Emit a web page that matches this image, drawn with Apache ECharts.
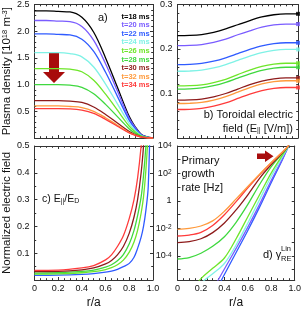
<!DOCTYPE html>
<html><head><meta charset="utf-8">
<script src="https://cdn.jsdelivr.net/npm/echarts@6/dist/echarts.min.js"></script>
<style>html,body{margin:0;padding:0;background:#fff}#c{width:304px;height:316px}</style>
</head><body><div id="c"></div><script>
// ---- legend / colours ----
const timeLabels = ['t=18 ms','t=20 ms','t=22 ms','t=24 ms','t=26 ms','t=28 ms','t=30 ms','t=32 ms','t=34 ms'];
const colors = ['#000000','#7a5cff','#2f5bff','#7ff2e6','#6ee62a','#3fd83f','#8e1b1b','#ff9a3c','#ff3b3b'];

// ---- a) plasma density [1e18 m^-3] ----
const rA = [0,0.1,0.2,0.3,0.4,0.5,0.6,0.7,0.8,0.85,0.9,0.95,1.0];
const densT18 = [2.38,2.38,2.37,2.36,2.26,1.98,1.50,0.95,0.40,0.21,0.07,0.02,0];
const densT20 = [2.20,2.20,2.19,2.18,2.09,1.83,1.39,0.88,0.37,0.20,0.066,0.018,0];
const densT22 = [1.95,1.95,1.94,1.93,1.85,1.62,1.23,0.78,0.33,0.175,0.058,0.016,0];
const densT24 = [1.60,1.60,1.60,1.58,1.52,1.33,1.01,0.64,0.27,0.144,0.048,0.013,0];
const densT26 = [1.30,1.30,1.30,1.29,1.24,1.08,0.82,0.52,0.22,0.117,0.039,0.010,0];
const densT28 = [1.00,1.00,1.00,0.99,0.95,0.83,0.63,0.40,0.17,0.09,0.03,0.008,0];
const densT30 = [0.70,0.70,0.70,0.69,0.665,0.58,0.44,0.28,0.12,0.063,0.021,0.006,0];
const densT32 = [0.60,0.60,0.60,0.59,0.57,0.50,0.38,0.24,0.10,0.054,0.018,0.005,0];
const densT34 = [0.55,0.55,0.55,0.545,0.52,0.46,0.35,0.22,0.094,0.05,0.017,0.004,0];

// ---- b) toroidal electric field [V/m] ----
const rB = [0,0.1,0.2,0.3,0.4,0.5,0.6,0.7,0.8,0.9,1.0];
const efT18 = [0.230,0.2305,0.2325,0.2375,0.245,0.2545,0.264,0.272,0.277,0.279,0.279];
const efT20 = [0.2075,0.208,0.210,0.215,0.222,0.232,0.241,0.249,0.254,0.256,0.256];
const efT22 = [0.165,0.1655,0.1675,0.1725,0.180,0.1895,0.199,0.207,0.212,0.214,0.214];
const efT24 = [0.150,0.1505,0.1525,0.1575,0.165,0.1745,0.184,0.192,0.197,0.199,0.199];
const efT26 = [0.117,0.1175,0.1195,0.1247,0.132,0.1425,0.1527,0.1609,0.166,0.168,0.168];
const efT28 = [0.110,0.1105,0.1125,0.1175,0.125,0.1345,0.144,0.152,0.157,0.159,0.159];
const efT30 = [0.085,0.0855,0.0875,0.0925,0.100,0.110,0.120,0.128,0.133,0.135,0.135];
const efT32 = [0.0775,0.078,0.080,0.0852,0.093,0.103,0.1132,0.1214,0.1265,0.1286,0.1286];
const efT34 = [0.064,0.0645,0.0665,0.0714,0.0789,0.0888,0.0987,0.1066,0.1115,0.1135,0.1135];

// ---- c) normalized electric field E||/ED ----
const rC = [0,0.2,0.4,0.5,0.6,0.65,0.7,0.75,0.8,0.84,0.87,0.9,0.92,0.94,0.96,0.98];
const eT22 = [0.017,0.018,0.021,0.024,0.029,0.033,0.040,0.050,0.062,0.085,0.118,0.16,0.20,0.26,0.35,0.7];
const eT26 = [0.022,0.023,0.027,0.031,0.039,0.046,0.057,0.074,0.104,0.142,0.185,0.25,0.31,0.41,0.56,0.78];
const eT28 = [0.026,0.027,0.032,0.037,0.048,0.057,0.072,0.095,0.135,0.185,0.24,0.31,0.39,0.50,0.66,0.9];
const eT30 = [0.031,0.032,0.038,0.045,0.060,0.073,0.094,0.125,0.175,0.235,0.30,0.40,0.50,0.64,0.82,1.1];
const eT34 = [0.036,0.037,0.045,0.054,0.075,0.094,0.125,0.165,0.23,0.30,0.38,0.50,0.62,0.78,1.0,1.3];

// ---- d) primary growth rate [Hz] ----
const rD = [0,0.1,0.2,0.3,0.4,0.5,0.6,0.7,0.8,0.9,0.95];
const gT20 = [1e-11,1.58e-10,5.0e-9,3.16e-7,1.12e-5,3.55e-4,1.26e-2,0.562,31.6,1413,11220];
const gT22 = [3.2e-12,5.0e-11,1.58e-9,1e-7,4.5e-6,1.78e-4,7.1e-3,0.355,22.4,1259,11220];
const gT24 = [2.5e-8,6.3e-8,1e-6,5.0e-6,2.82e-5,6.3e-4,2.51e-2,1.26,63,1995,11220];
const gT26 = [1e-7,2.0e-7,2.24e-6,1.26e-5,7.1e-5,1.78e-3,7.1e-2,2.82,112,2512,11220];
const gT28 = [6.0e-5,7.6e-5,1.58e-4,5.0e-4,2.51e-3,2.82e-2,0.562,15.8,316,3162,11220];
const gT30 = [9.3e-4,1.1e-3,1.78e-3,5.0e-3,2.51e-2,0.224,2.82,44.7,447,3548,11220];
const gT32 = [8.7e-3,1.0e-2,1.51e-2,3.55e-2,0.178,1.41,11.2,89,631,3981,11220];
const gT34 = [2.82e-3,3.31e-3,5.25e-3,1.66e-2,0.1,0.891,8.91,79.4,603,3981,11220];

// tick labels
const xTickLabels = {0:'0',0.2:'0.2',0.4:'0.4',0.6:'0.6',0.8:'0.8',1:'1.0'};
const dLabelValues = [1e-4,1e-2,1,1e2,1e4];

const FONT = 'Liberation Sans';
const AX = '#333';
const pts = (xs, ys) => xs.map((x, i) => [x, ys[i]]);

function xAx(grid, pos, labels, name) {
  return {
    type:'value', gridIndex:grid, position:pos, min:0, max:1, interval:0.2,
    axisLine:{show:true, onZero:false, lineStyle:{color:AX, width:1}},
    axisTick:{show:true, inside:true, length:3, lineStyle:{color:AX}},
    minorTick:{show:true, splitNumber:4, length:1.8, lineStyle:{color:AX}},
    splitLine:{show:false},
    axisLabel:{show:labels, margin:4, fontSize:9, color:'#111', fontFamily:FONT,
      formatter:v => xTickLabels[v] !== undefined ? xTickLabels[v] : ''},
    name: name || '', nameLocation:'middle', nameGap:17,
    nameTextStyle:{fontSize:12, color:'#111', fontFamily:FONT}
  };
}
function yAx(grid, pos, min, max, interval, minor, labels, name) {
  return {
    type:'value', gridIndex:grid, position:pos, min:min, max:max, interval:interval,
    axisLine:{show:true, onZero:false, lineStyle:{color:AX, width:1}},
    axisTick:{show:true, inside:true, length:3, lineStyle:{color:AX}},
    minorTick:{show:true, splitNumber:minor, length:1.8, lineStyle:{color:AX}},
    splitLine:{show:false},
    axisLabel:{show:labels, margin:5, fontSize:9, color:'#111', fontFamily:FONT, showMinLabel:false,
      formatter:v => v.toFixed(1)},
    name: name || '', nameLocation:'middle', nameGap:16,
    nameTextStyle:{fontSize:11.5, color:'#111', fontFamily:FONT,
      rich:{sup:{fontSize:7.5, verticalAlign:'top', fontFamily:FONT, color:'#111'}}}
  };
}
function yLog(grid, pos, labels) {
  return {
    type:'log', logBase:10, gridIndex:grid, position:pos, min:1.778e-6, max:1e4,
    axisLine:{show:true, onZero:false, lineStyle:{color:AX, width:1}},
    axisTick:{show:true, inside:true, length:3, lineStyle:{color:AX},
      customValues:[1e-5,1e-4,1e-3,1e-2,1e-1,1,1e1,1e2,1e3,1e4]},
    splitLine:{show:false},
    axisLabel:{show:labels, margin:6, fontSize:9, color:'#111', fontFamily:FONT,
      customValues:dLabelValues,
      formatter:v => { const e = Math.round(Math.log10(v)); return e === 0 ? '1' : '10{sup|' + e + '}'; },
      rich:{sup:{fontSize:6.5, verticalAlign:'top', fontFamily:FONT, color:'#111'}}}
  };
}

const grids = [
  {left:32, top:4, width:121, height:134},
  {left:177.5, top:4, width:120.5, height:134},
  {left:32, top:146, width:121, height:134},
  {left:177.5, top:146, width:120.5, height:134}
];

const xAxes = [
  xAx(0,'bottom',false), xAx(0,'top',false),
  xAx(1,'bottom',false), xAx(1,'top',false),
  xAx(2,'bottom',true,'r/a'), xAx(2,'top',false),
  xAx(3,'bottom',true,'r/a'), xAx(3,'top',false)
];
const yAxes = [
  yAx(0,'left',0,2.5,0.5,5,true,'Plasma density [10{sup|18} m{sup|-3}]'), yAx(0,'right',0,2.5,0.5,5,false),
  yAx(1,'left',0,0.3,0.1,5,true), yAx(1,'right',0,0.3,0.1,5,false),
  yAx(2,'left',0,0.5,0.1,2,true,'Normalized electric field'), yAx(2,'right',0,0.5,0.1,2,false),
  yLog(3,'left',true), yLog(3,'right',false)
];

function line(xi, yi, xs, ys, color) {
  return {type:'line', xAxisIndex:xi, yAxisIndex:yi, data:pts(xs, ys), symbol:'none',
    smooth:0.35, lineStyle:{color:color, width:1.3}, itemStyle:{color:color}, clip:true, silent:true};
}

const densAll = [densT18,densT20,densT22,densT24,densT26,densT28,densT30,densT32,densT34];
const efAll = [efT18,efT20,efT22,efT24,efT26,efT28,efT30,efT32,efT34];
const series = [];
densAll.forEach((d, i) => series.push(line(0, 0, rA, d, colors[i])));
efAll.forEach((d, i) => {
  series.push(line(2, 2, rB, d, colors[i]));
  series.push({type:'scatter', xAxisIndex:2, yAxisIndex:2, symbol:'rect', symbolSize:4,
    data:[[rB[rB.length-1], d[d.length-1]]], itemStyle:{color:colors[i]}, silent:true});
});
[[eT22,2],[eT26,4],[eT28,5],[eT30,6],[eT34,8]].forEach(([d, ci]) => series.push(line(4, 4, rC, d, colors[ci])));
[[gT22,2],[gT20,1],[gT24,3],[gT26,4],[gT28,5],[gT30,6],[gT34,8],[gT32,7]].forEach(([d, ci]) => series.push(line(6, 6, rD, d, colors[ci])));

const txt = (x, y, text, extra) => ({type:'text', x:x, y:y, silent:true,
  style:Object.assign({text:text, fill:'#111', fontSize:11, fontFamily:FONT, align:'left', verticalAlign:'middle'}, extra || {})});

const graphic = [];
timeLabels.forEach((t, i) => graphic.push(txt(121.5, 16.7 + i * 8.55, t,
  {fill:colors[i], fontSize:7.5, fontWeight:'bold'})));
graphic.push(txt(98, 17.5, 'a)'));
graphic.push(txt(293, 115, 'b) Toroidal electric', {align:'right'}));
graphic.push(txt(293, 128.5, 'field (E{sub|||} [V/m])', {align:'right',
  rich:{sub:{fontSize:7, verticalAlign:'bottom', fontFamily:FONT, fill:'#111'}}}));
graphic.push(txt(42, 199, 'c) E{sub|||}/E{sub|D}', {fontSize:10.5,
  rich:{sub:{fontSize:7, verticalAlign:'bottom', fontFamily:FONT, fill:'#111'}}}));
graphic.push(txt(181.5, 154.5, 'Primary\ngrowth\nrate [Hz]', {verticalAlign:'top', lineHeight:13.3}));
graphic.push(txt(263, 255, 'd) γ'));
graphic.push(txt(281, 249, 'Lin', {fontSize:7.5}));
graphic.push(txt(281, 258.5, 'RE', {fontSize:7.5}));
// red arrows
graphic.push({type:'polygon', silent:true,
  shape:{points:[[49,52],[59,52],[59,72],[65,72],[54,83],[43,72],[49,72]]},
  style:{fill:'#a80c0c'}});
graphic.push({type:'polygon', silent:true,
  shape:{points:[[257,153.5],[265,153.5],[265,150.5],[273.5,156.2],[265,162],[265,159],[257,159]]},
  style:{fill:'#a80c0c'}});

const chart = echarts.init(document.getElementById('c'), null, {renderer:'canvas'});
chart.setOption({
  animation:false, backgroundColor:'#fff',
  grid:grids, xAxis:xAxes, yAxis:yAxes, series:series, graphic:graphic
});
</script></body></html>
